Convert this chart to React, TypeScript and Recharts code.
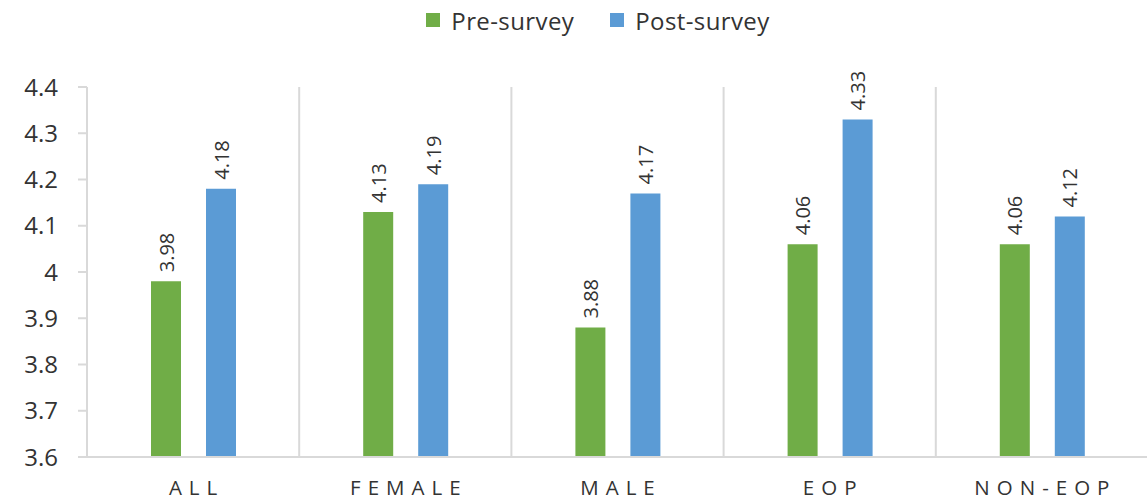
import React from "react";
import { BarChart, Bar, XAxis, YAxis, CartesianGrid, Legend, LabelList } from "recharts";

const categories = ["ALL", "FEMALE", "MALE", "EOP", "NON-EOP"];
const preSurvey = [3.98, 4.13, 3.88, 4.06, 4.06];
const postSurvey = [4.18, 4.19, 4.17, 4.33, 4.12];
const yTicks = [3.6, 3.7, 3.8, 3.9, 4, 4.1, 4.2, 4.3, 4.4];
const seriesNames = ["Pre-survey", "Post-survey"];

const data = categories.map((c, i) => ({ name: c, pre: preSurvey[i], post: postSurvey[i] }));

const GREEN = "#70AD47";
const BLUE = "#5B9BD5";
const FONT = "'Open Sans', sans-serif";
const TEXT = "#333333";

const ValueLabel = (props: any) => {
  const { x, y, width, value } = props;
  const cx = x + width / 2;
  const ty = y - 9;
  return (
    <text
      x={cx}
      y={ty}
      transform={`rotate(-90, ${cx}, ${ty})`}
      textAnchor="start"
      dominantBaseline="central"
      fontSize={20}
      fill={TEXT}
      fontFamily={FONT}
    >
      {value}
    </text>
  );
};

const XTick = (props: any) => {
  const { x, y, payload } = props;
  return (
    <text
      x={x + 3.5}
      y={y}
      textAnchor="middle"
      fontSize={20.5}
      fill={TEXT}
      fontFamily={FONT}
      letterSpacing={7}
      dy={8}
    >
      {payload.value}
    </text>
  );
};

const LegendContent = () => (
  <div style={{ height: 82, display: "flex", justifyContent: "center", paddingLeft: 40, fontFamily: FONT, fontSize: 24, color: TEXT, letterSpacing: 0.4 }}>
    {[GREEN, BLUE].map((col, i) => (
      <div key={i} style={{ display: "flex", alignItems: "center", height: 30, marginLeft: i ? 36 : 0 }}>
        <span style={{ width: 14, height: 14, background: col, display: "inline-block", marginRight: 11 }} />
        <span>{seriesNames[i]}</span>
      </div>
    ))}
  </div>
);

export default function App() {
  return (
    <div style={{ position: "absolute", left: 0, top: 0 }}>
      <BarChart
        width={1148}
        height={501}
        data={data}
        margin={{ top: 5, right: 0, bottom: 14, left: 8 }}
        barGap={25}
      >
        <Legend verticalAlign="top" align="center" content={<LegendContent />} />
        <CartesianGrid
          horizontal={false}
          vertical={true}
          stroke="#d9d9d9"
          strokeWidth={2}
          verticalCoordinatesGenerator={({ offset }: any) =>
            categories.slice(1).map((_, i) => offset.left + ((i + 1) * offset.width) / categories.length)
          }
        />
        <XAxis
          dataKey="name"
          axisLine={{ stroke: "#d9d9d9", strokeWidth: 2 }}
          tickLine={false}
          tick={<XTick />}
          tickMargin={24}
          height={30}
          interval={0}
        />
        <YAxis
          domain={[3.6, 4.4]}
          ticks={yTicks}
          allowDataOverflow
          width={79}
          axisLine={{ stroke: "#d9d9d9", strokeWidth: 2 }}
          tickLine={{ stroke: "#d9d9d9", strokeWidth: 2 }}
          tickSize={9}
          tickMargin={20}
          tick={{ fontSize: 24, fill: TEXT, fontFamily: FONT }}
        />
        <Bar dataKey="pre" name={seriesNames[0]} fill={GREEN} barSize={30} isAnimationActive={false}>
          <LabelList dataKey="pre" content={<ValueLabel />} />
        </Bar>
        <Bar dataKey="post" name={seriesNames[1]} fill={BLUE} barSize={30} isAnimationActive={false}>
          <LabelList dataKey="post" content={<ValueLabel />} />
        </Bar>
      </BarChart>
    </div>
  );
}
